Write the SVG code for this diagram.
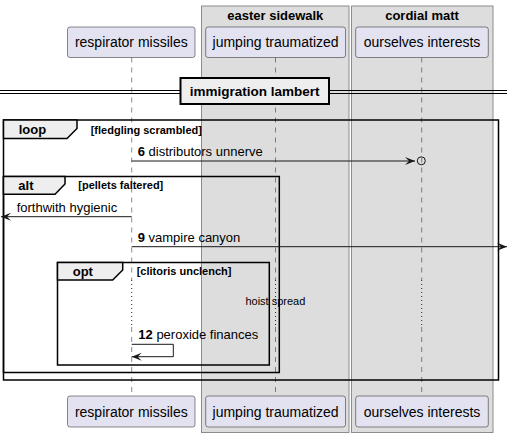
<svg xmlns="http://www.w3.org/2000/svg" width="514" height="437" viewBox="0 0 514 437">
<style>
text{font-family:"Liberation Sans",Arial,sans-serif;fill:#000}
.part rect{fill:#E2E2F0;stroke:#181818;stroke-width:0.5}
.part text{font-size:14px;text-anchor:middle}
.grp rect{fill:#DDDDDD;stroke:#8C8C8C;stroke-width:1}
.grp text{font-size:13px;font-weight:bold;text-anchor:middle}
.life{stroke:#181818;stroke-width:0.5;stroke-dasharray:5,5;fill:none}
.delay{stroke:#800020;stroke-width:1;stroke-dasharray:1,3;fill:none}
.frame{fill:none;stroke:#000;stroke-width:1.5}
.tab{fill:#EEEEEE;stroke:#000;stroke-width:1.5}
.ftitle{font-size:13px;font-weight:bold}
.cond{font-size:11px;font-weight:bold}
.msg{stroke:#181818;stroke-width:1;fill:none}
.mtext{font-size:13px}
</style>
<defs>
<marker id="ah" markerUnits="userSpaceOnUse" markerWidth="11" markerHeight="9" refX="10" refY="4" orient="auto" viewBox="0 0 11 9">
<path d="M0,0 L10,4 L0,8 L4,4 Z" fill="#181818"/>
</marker>
</defs>

<g id="box-easter-sidewalk" class="grp">
<rect x="201.5" y="6" width="147.5" height="426.5"/>
<text x="275.3" y="19.5">easter sidewalk</text>
</g>
<g id="box-cordial-matt" class="grp">
<rect x="351.5" y="6" width="141.5" height="426.5"/>
<text x="422" y="19.5">cordial matt</text>
</g>

<g id="lifelines">
<path class="life" d="M131.7,57.5 V280 M131.7,327 V396"/>
<path class="delay" d="M131.7,280 V327"/>
<path class="life" d="M275.5,57.5 V280 M275.5,327 V396"/>
<path class="delay" d="M275.5,280 V327"/>
<path class="life" d="M421.7,57.5 V280 M421.7,327 V396"/>
<path class="delay" d="M421.7,280 V327"/>
</g>

<g id="p-respirator-missiles" class="part">
<rect x="67.5" y="27" width="127.5" height="30.5" rx="2.5"/>
<text x="131.3" y="47">respirator missiles</text>
<rect x="67.5" y="396" width="127.5" height="31" rx="2.5"/>
<text x="131.3" y="417">respirator missiles</text>
</g>
<g id="p-jumping-traumatized" class="part">
<rect x="205.7" y="27" width="139.8" height="30.5" rx="2.5"/>
<text x="275.6" y="47">jumping traumatized</text>
<rect x="205.7" y="396" width="139.8" height="31" rx="2.5"/>
<text x="275.6" y="417">jumping traumatized</text>
</g>
<g id="p-ourselves-interests" class="part">
<rect x="355.7" y="27" width="132.6" height="30.5" rx="2.5"/>
<text x="422" y="47">ourselves interests</text>
<rect x="355.7" y="396" width="132.6" height="31" rx="2.5"/>
<text x="422" y="417">ourselves interests</text>
</g>

<g id="divider-immigration-lambert">
<path d="M0,90.5 H507 M0,93.5 H507" stroke="#000" stroke-width="1" fill="none"/>
<rect x="180.5" y="78" width="148.5" height="26" fill="#EEEEEE" stroke="#000" stroke-width="2"/>
<text x="254.7" y="95.5" font-size="13.5" font-weight="bold" text-anchor="middle">immigration lambert</text>
</g>

<g id="frame-loop">
<rect class="frame" x="3.5" y="120" width="495" height="260"/>
<path class="tab" d="M3.5,120 H77 V128.5 L67,138.5 H3.5 Z"/>
<text class="ftitle" x="18.7" y="134.3">loop</text>
<text class="cond" x="90.7" y="134">[fledgling scrambled]</text>
</g>
<g id="frame-alt">
<rect class="frame" x="3.5" y="176.5" width="275.8" height="196"/>
<path class="tab" d="M3.5,176.5 H65 V184 L55,194.3 H3.5 Z"/>
<text class="ftitle" x="18.3" y="190">alt</text>
<text class="cond" x="78.3" y="188.7">[pellets faltered]</text>
</g>
<g id="frame-opt">
<rect class="frame" x="57.5" y="262.5" width="211.8" height="102.5"/>
<path class="tab" d="M57.5,262.5 H122.7 V270 L112.7,280 H57.5 Z"/>
<text class="ftitle" x="72.7" y="275.7">opt</text>
<text class="cond" x="136.7" y="275">[clitoris unclench]</text>
</g>

<g id="delay-hoist-spread">
<text x="275.4" y="305" font-size="11" text-anchor="middle">hoist spread</text>
</g>

<g id="connectors">
<g id="msg6">
<line class="msg" x1="131.7" y1="161" x2="415" y2="161" marker-end="url(#ah)"/>
<circle cx="421.3" cy="160.8" r="4" fill="none" stroke="#181818" stroke-width="1"/>
<text class="mtext" x="137.7" y="156"><tspan font-weight="bold">6</tspan> distributors unnerve</text>
</g>
<g id="msg-forthwith">
<line class="msg" x1="131.7" y1="216.7" x2="1" y2="216.7" marker-end="url(#ah)"/>
<text class="mtext" x="16.7" y="211.7">forthwith hygienic</text>
</g>
<g id="msg9">
<line class="msg" x1="131.7" y1="246.7" x2="507" y2="246.7" marker-end="url(#ah)"/>
<text class="mtext" x="137.7" y="241.7"><tspan font-weight="bold">9</tspan> vampire canyon</text>
</g>
<g id="msg12">
<path class="msg" d="M131.7,344.3 H173.3 V356.7 H131.7" marker-end="url(#ah)"/>
<text class="mtext" x="138.3" y="339.3"><tspan font-weight="bold">12</tspan> peroxide finances</text>
</g>
</g>
</svg>
